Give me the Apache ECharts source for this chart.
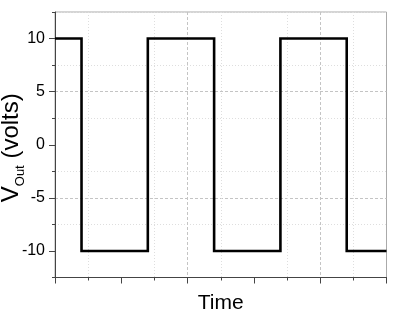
<!DOCTYPE html>
<html>
<head>
<meta charset="utf-8">
<script src="https://cdn.jsdelivr.net/npm/echarts@6/dist/echarts.min.js"></script>
<style>
html,body{margin:0;padding:0;background:#fff;}
#chart{width:398px;height:314px;}
</style>
</head>
<body>
<div id="chart"></div>
<script>
// Data
var time = [0, 0.8, 0.8, 2.8, 2.8, 4.8, 4.8, 6.8, 6.8, 8.8, 8.8, 10];
var vout = [10, 10, -10, -10, 10, 10, -10, -10, 10, 10, -10, -10];
var yTickLabels = [-10, -5, 0, 5, 10];
var xMajorTicks = [0, 2, 4, 6, 8, 10];

var points = time.map(function (t, i) { return [t, vout[i]]; });

var FONT = 'Liberation Sans, Arial, sans-serif';
var AXIS_COLOR = '#444';
var MAJOR_GRID = '#c4c4c4';
var MINOR_GRID = '#dedede';
var NONE = 'rgba(0,0,0,0)';

var chart = echarts.init(document.getElementById('chart'), null, {renderer: 'canvas'});
chart.setOption({
  animation: false,
  backgroundColor: '#fff',
  grid: {
    left: 55, top: 12, right: 11.5, bottom: 36.5,
    show: true, borderColor: '#aaaaaa', borderWidth: 1,
    containLabel: false,
    outerBoundsMode: 'none'
  },
  xAxis: [
    {
      type: 'value', min: 0, max: 10, interval: 1, position: 'bottom',
      name: 'Time', nameLocation: 'middle', nameGap: 15,
      nameMoveOverlap: false,
      nameTextStyle: {fontFamily: FONT, fontSize: 21, color: '#000'},
      axisLine: {show: true, onZero: false, lineStyle: {color: AXIS_COLOR, width: 1}},
      axisTick: {show: true, inside: false, length: 3, lineStyle: {color: AXIS_COLOR}},
      axisLabel: {show: false},
      splitLine: {show: true, lineStyle: {color: [NONE, MINOR_GRID], type: [1, 2], width: 1}}
    },
    {
      type: 'value', min: 0, max: 10, interval: 1, position: 'bottom', offset: 0,
      axisLine: {show: false, onZero: false},
      axisTick: {show: true, inside: false, length: 6, customValues: xMajorTicks, lineStyle: {color: AXIS_COLOR}},
      axisLabel: {show: false},
      splitLine: {show: true, lineStyle: {color: [MAJOR_GRID, NONE], type: [3, 2], width: 1}}
    }
  ],
  yAxis: [
    {
      type: 'value', min: -12.5, max: 12.5, interval: 2.5, position: 'left',
      name: '{v|V}{s|Out}{w| (volts)}', nameLocation: 'middle', nameGap: 31,
      nameMoveOverlap: false,
      nameTextStyle: {
        fontFamily: FONT, color: '#000',
        rich: {
          v: {fontFamily: FONT, fontSize: 24, lineHeight: 25, verticalAlign: 'top', color: '#000'},
          w: {fontFamily: FONT, fontSize: 24, lineHeight: 25, verticalAlign: 'top', color: '#000', padding: [0, 6, 0, 0]},
          s: {fontFamily: FONT, fontSize: 13, lineHeight: 13, verticalAlign: 'top', padding: [15, 0, 0, 0], color: '#000'}
        }
      },
      axisLine: {show: true, onZero: false, lineStyle: {color: AXIS_COLOR, width: 1}},
      axisTick: {show: true, inside: false, length: 3, lineStyle: {color: AXIS_COLOR}},
      axisLabel: {
        show: true, margin: 10, fontFamily: FONT, fontSize: 16, color: '#000',
        customValues: yTickLabels,
        formatter: function (v) { return String(v); }
      },
      splitLine: {show: true, lineStyle: {color: [MINOR_GRID, NONE], type: [1, 2], width: 1}}
    },
    {
      type: 'value', min: -12.5, max: 12.5, interval: 2.5, position: 'left', offset: 0,
      axisLine: {show: false, onZero: false},
      axisTick: {show: true, inside: false, length: 6, customValues: yTickLabels, lineStyle: {color: AXIS_COLOR}},
      axisLabel: {show: false},
      splitLine: {show: true, lineStyle: {color: [NONE, MAJOR_GRID], type: [3, 2], width: 1}}
    }
  ],
  series: [{
    type: 'line',
    data: points,
    xAxisIndex: 0, yAxisIndex: 0,
    showSymbol: false, symbol: 'none',
    lineStyle: {color: '#000', width: 2.6, join: 'miter', cap: 'butt'},
    clip: true
  }]
});
</script>
</body>
</html>
